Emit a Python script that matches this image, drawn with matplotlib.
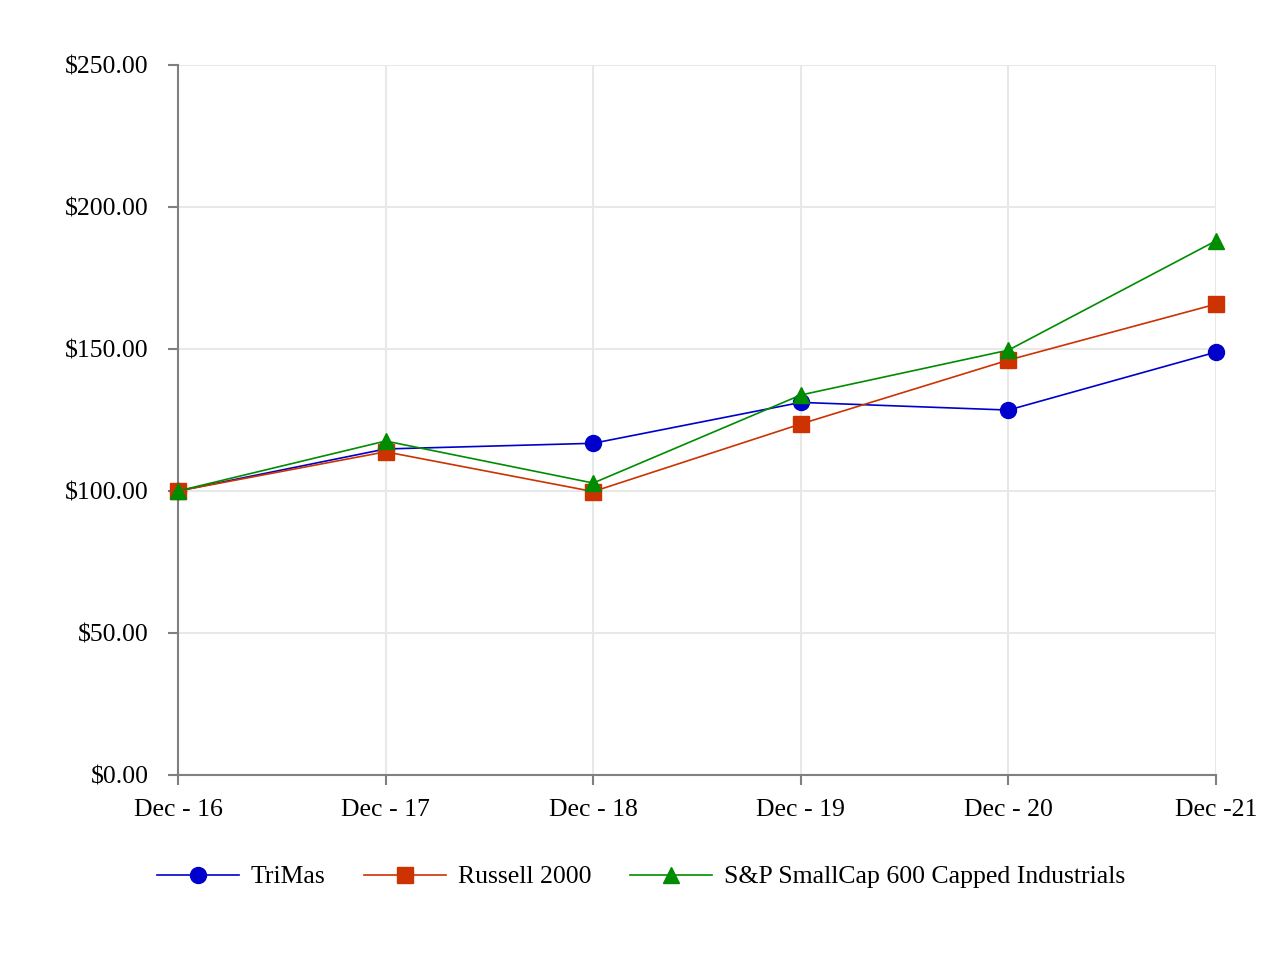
import matplotlib
matplotlib.use("Agg")
import matplotlib.pyplot as plt

periods = ["Dec - 16", "Dec - 17", "Dec - 18", "Dec - 19", "Dec - 20", "Dec -21"]
trimas = [100.0, 114.8, 116.8, 131.2, 128.5, 148.9]
russell = [100.0, 113.8, 99.8, 123.6, 146.1, 165.8]
sp600 = [100.0, 117.6, 102.8, 133.8, 149.6, 188.1]
y_ticks = [0, 50, 100, 150, 200, 250]

plt.rcParams["font.family"] = ["Liberation Serif", "DejaVu Serif"]
FS = 18.5

fig = plt.figure(figsize=(12.8, 9.6), dpi=100)
ax = fig.add_axes([178 / 1280, 185 / 960, (1216 - 178) / 1280, 710 / 960])

x = list(range(len(periods)))
series = [
    ("TriMas", trimas, "#0000cc", "o", 11.5),
    ("Russell 2000", russell, "#cc3300", "s", 11),
    ("S&P SmallCap 600 Capped Industrials", sp600, "#008c00", "^", 12),
]
for label, vals, color, marker, ms in series:
    ax.plot(x, vals, color=color, marker=marker, markersize=ms, linewidth=1.2,
            label=label, clip_on=False, zorder=3)

ax.set_xlim(0, len(periods) - 1)
ax.set_ylim(0, 250)
ax.set_xticks(x)
ax.set_xticklabels(periods, fontsize=FS)
ax.set_yticks(y_ticks)
ax.set_yticklabels([f"${v:.2f}" for v in y_ticks], fontsize=FS)
# the reference labels sit a touch below their ticks
for lbl in ax.get_yticklabels():
    lbl.set_va("center_baseline")

ax.grid(True, color="#e8e8e8", linewidth=1.5)
ax.set_axisbelow(True)
for side in ["top", "right"]:
    ax.spines[side].set_visible(False)
for side in ["left", "bottom"]:
    ax.spines[side].set_color("#808080")
    ax.spines[side].set_linewidth(1.5)
ax.tick_params(axis="both", color="#808080", width=1.5, length=7, direction="out")
ax.tick_params(axis="y", pad=14)
ax.tick_params(axis="x", pad=10)

ax.legend(loc="center", bbox_to_anchor=(641 / 1280, 83 / 960),
          bbox_transform=fig.transFigure, ncol=3, frameon=False, fontsize=FS,
          handlelength=3.2, columnspacing=1.5, handletextpad=0.45)

fig.savefig("out.png", dpi=100, facecolor="white")
